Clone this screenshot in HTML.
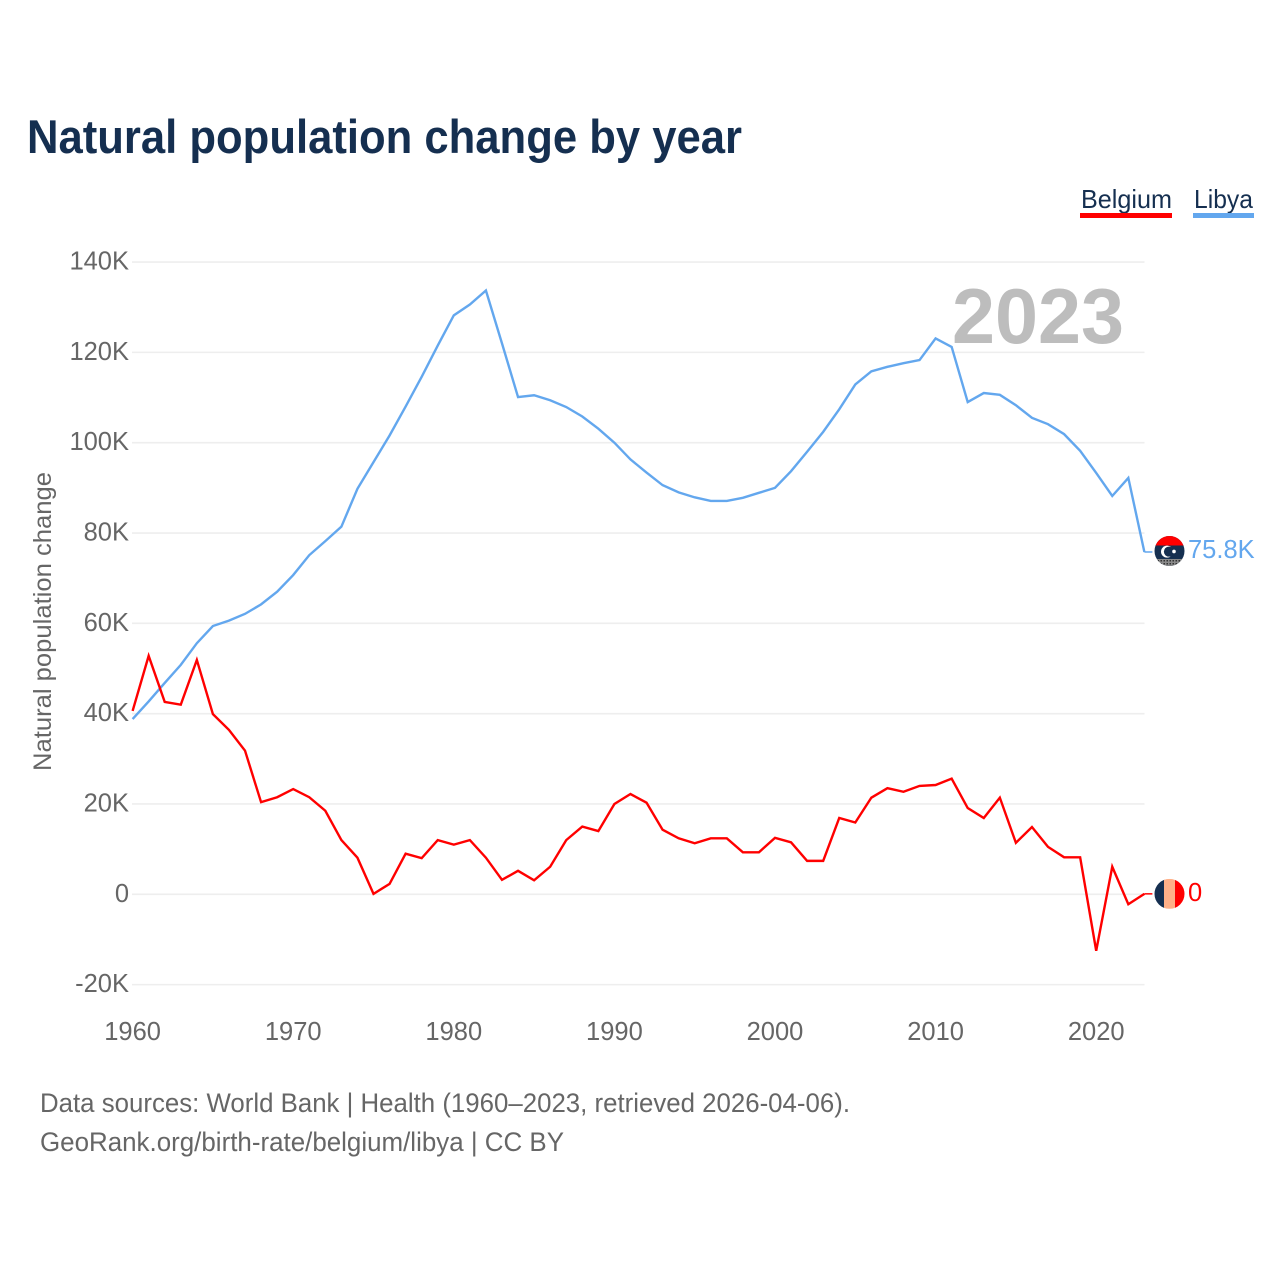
<!DOCTYPE html>
<html lang="en">
<head>
<meta charset="utf-8">
<title>Natural population change by year</title>
<style>
  html, body { margin: 0; padding: 0; background: #fff; }
  svg { display: block; font-family: "Liberation Sans", sans-serif; }
</style>
</head>
<body>
<svg id="chart" xmlns="http://www.w3.org/2000/svg" width="1280" height="1280" viewBox="0 0 1280 1280">
  <defs>
    <clipPath id="flag-clip"><circle cx="0" cy="0" r="15"></circle></clipPath>
    <pattern id="dots" width="3" height="3" patternUnits="userSpaceOnUse">
      <rect width="3" height="3" fill="#8a8a8a"></rect>
      <rect width="1.5" height="1.5" fill="#333"></rect>
    </pattern>
  </defs>
  <rect width="1280" height="1280" fill="#ffffff"></rect>

  <text x="27" y="153" font-size="47" font-weight="700" fill="#152f50" textLength="715" lengthAdjust="spacingAndGlyphs">Natural population change by year</text>

  <g>
    <g>
      <text x="1081" y="208" font-size="26" fill="#152f50" textLength="91" lengthAdjust="spacingAndGlyphs">Belgium</text>
      <rect x="1080" y="213" width="92" height="5" fill="#ff0000"></rect>
    </g>
    <g>
      <text x="1194" y="208" font-size="26" fill="#152f50" textLength="59" lengthAdjust="spacingAndGlyphs">Libya</text>
      <rect x="1193" y="213" width="61" height="5" fill="#63a7ee"></rect>
    </g>
  </g>

  <text transform="translate(51 771) rotate(-90)" x="0" y="0" font-size="25" fill="#666666" textLength="299" lengthAdjust="spacingAndGlyphs">Natural population change</text>

  <g id="grid"></g>
  <g id="y-ticks"></g>
  <g id="x-ticks"></g>

  <text x="952" y="343" font-size="78" font-weight="700" fill="#bdbdbd" textLength="172" lengthAdjust="spacingAndGlyphs">2023</text>

  <g id="series"></g>

  <g id="flag-libya">
    <g clip-path="url(#flag-clip)">
      <rect x="-15" y="-15" width="30" height="30" fill="#152f50"></rect>
      <rect x="-15" y="-15" width="30" height="9.5" fill="#ff0000"></rect>
      <rect x="-15" y="8" width="30" height="7" fill="url(#dots)"></rect>
    </g>
    <circle cx="-2.5" cy="0.7" r="6" fill="#ffffff"></circle>
    <circle cx="-0.6" cy="0.7" r="5" fill="#152f50"></circle>
    <circle cx="4.5" cy="0.5" r="1.8" fill="#ffffff"></circle>
  </g>

  <g id="flag-belgium">
    <g clip-path="url(#flag-clip)">
      <rect x="-15" y="-15" width="10" height="30" fill="#152f50"></rect>
      <rect x="-5.5" y="-15" width="11" height="30" fill="#ffb088"></rect>
      <rect x="5.5" y="-15" width="10" height="30" fill="#ff0000"></rect>
    </g>
  </g>

  <g id="end-labels"></g>

  <g font-size="26.5" fill="#666666">
    <text x="40" y="1112" textLength="810" lengthAdjust="spacingAndGlyphs">Data sources: World Bank | Health (1960–2023, retrieved 2026-04-06).</text>
    <text x="40" y="1151" textLength="524" lengthAdjust="spacingAndGlyphs">GeoRank.org/birth-rate/belgium/libya | CC BY</text>
  </g>
</svg>

<script>
var years = [1960,1961,1962,1963,1964,1965,1966,1967,1968,1969,1970,1971,1972,1973,1974,1975,1976,1977,1978,1979,1980,1981,1982,1983,1984,1985,1986,1987,1988,1989,1990,1991,1992,1993,1994,1995,1996,1997,1998,1999,2000,2001,2002,2003,2004,2005,2006,2007,2008,2009,2010,2011,2012,2013,2014,2015,2016,2017,2018,2019,2020,2021,2022,2023];
var belgiumValues = [40.6,52.8,42.6,42.0,51.9,39.9,36.4,31.8,20.4,21.5,23.3,21.5,18.5,12.0,8.1,0.1,2.3,9.0,8.0,12.0,11.0,12.0,8.1,3.2,5.2,3.1,6.1,12.0,15.0,14.0,20.0,22.2,20.3,14.3,12.4,11.3,12.4,12.4,9.3,9.3,12.5,11.5,7.4,7.4,16.9,15.9,21.4,23.5,22.7,24.0,24.2,25.6,19.1,16.9,21.4,11.4,14.9,10.5,8.2,8.2,-12.5,6.1,-2.2,0.1];
var libyaValues = [38.8,42.7,46.8,50.8,55.6,59.4,60.6,62.1,64.2,67.0,70.7,75.1,78.2,81.4,89.8,95.7,101.6,108.0,114.6,121.5,128.2,130.6,133.7,122.0,110.1,110.5,109.4,107.9,105.8,103.1,100.0,96.3,93.4,90.6,89.0,87.9,87.1,87.1,87.8,88.9,90.0,93.7,98.0,102.4,107.4,112.9,115.8,116.8,117.6,118.3,123.1,121.2,109.0,111.0,110.6,108.3,105.5,104.1,101.9,98.2,93.3,88.2,92.2,75.8];
var yTickValues = [140,120,100,80,60,40,20,0,-20];
var yTickLabels = ["140K","120K","100K","80K","60K","40K","20K","0","-20K"];
var xTickYears = [1960,1970,1980,1990,2000,2010,2020];
var endValueLabels = ["0","75.8K"];

var SVG_NS = "http://www.w3.org/2000/svg";
function xScale(year) { return 132.6 + (year - 1960) * 16.06; }
function yScale(value) { return 894.3 - value * 4.516; }

var gridGroup = document.getElementById("grid");
var yTickGroup = document.getElementById("y-ticks");
var xTickGroup = document.getElementById("x-ticks");
var seriesGroup = document.getElementById("series");
var endLabelGroup = document.getElementById("end-labels");

yTickValues.forEach(function (v, i) {
  var line = document.createElementNS(SVG_NS, "line");
  
  
  line.setAttribute("x1", 132);
  line.setAttribute("x2", 1144.5);
  line.setAttribute("y1", yScale(v));
  line.setAttribute("y2", yScale(v));
  line.setAttribute("stroke", "#eeeeee");
  line.setAttribute("stroke-width", "1.6");
  gridGroup.appendChild(line);

  var label = document.createElementNS(SVG_NS, "text");
  
  
  label.setAttribute("x", 129);
  label.setAttribute("y", yScale(v) + 7.5);
  label.setAttribute("text-anchor", "end");
  label.setAttribute("font-size", "25.5");
  label.setAttribute("fill", "#666666");
  label.textContent = yTickLabels[i];
  yTickGroup.appendChild(label);
});

xTickYears.forEach(function (yr) {
  var label = document.createElementNS(SVG_NS, "text");
  
  
  label.setAttribute("x", xScale(yr));
  label.setAttribute("y", 1040);
  label.setAttribute("text-anchor", "middle");
  label.setAttribute("font-size", "25.5");
  label.setAttribute("fill", "#666666");
  label.textContent = String(yr);
  xTickGroup.appendChild(label);
});

function pathFor(values) {
  return values.map(function (v, i) {
    return (i ? "L" : "M") + xScale(years[i]).toFixed(2) + " " + yScale(v).toFixed(2);
  }).join(" ");
}

function drawSeries(values, color, lineName, connectorName) {
  var lastX = xScale(years[years.length - 1]);
  var lastY = yScale(values[values.length - 1]);
  var path = document.createElementNS(SVG_NS, "path");
  
  
  path.setAttribute("d", pathFor(values));
  path.setAttribute("fill", "none");
  path.setAttribute("stroke", color);
  path.setAttribute("stroke-width", "2.4");
  path.setAttribute("stroke-linejoin", "miter");
  seriesGroup.appendChild(path);

  var connector = document.createElementNS(SVG_NS, "line");
  
  
  connector.setAttribute("x1", lastX);
  connector.setAttribute("x2", lastX + 8);
  connector.setAttribute("y1", lastY);
  connector.setAttribute("y2", lastY);
  connector.setAttribute("stroke", color);
  connector.setAttribute("stroke-width", "1.5");
  seriesGroup.appendChild(connector);
}

drawSeries(libyaValues, "#63a7ee", "libya-line", "libya-end-connector");
drawSeries(belgiumValues, "#ff0000", "belgium-line", "belgium-end-connector");

var lastBelgiumY = yScale(belgiumValues[belgiumValues.length - 1]);
var lastLibyaY = yScale(libyaValues[libyaValues.length - 1]);
document.getElementById("flag-belgium").setAttribute("transform", "translate(1169.5 " + lastBelgiumY + ")");
document.getElementById("flag-libya").setAttribute("transform", "translate(1169.5 " + (lastLibyaY - 1) + ")");

var belgiumEndLabel = document.createElementNS(SVG_NS, "text");


belgiumEndLabel.setAttribute("x", 1188);
belgiumEndLabel.setAttribute("y", lastBelgiumY + 7);
belgiumEndLabel.setAttribute("font-size", "25.5");
belgiumEndLabel.setAttribute("fill", "#ff0000");
belgiumEndLabel.textContent = endValueLabels[0];
endLabelGroup.appendChild(belgiumEndLabel);

var libyaEndLabel = document.createElementNS(SVG_NS, "text");


libyaEndLabel.setAttribute("x", 1188);
libyaEndLabel.setAttribute("y", lastLibyaY + 6);
libyaEndLabel.setAttribute("font-size", "25.5");
libyaEndLabel.setAttribute("fill", "#63a7ee");
libyaEndLabel.textContent = endValueLabels[1];
endLabelGroup.appendChild(libyaEndLabel);
</script>
</body>
</html>
